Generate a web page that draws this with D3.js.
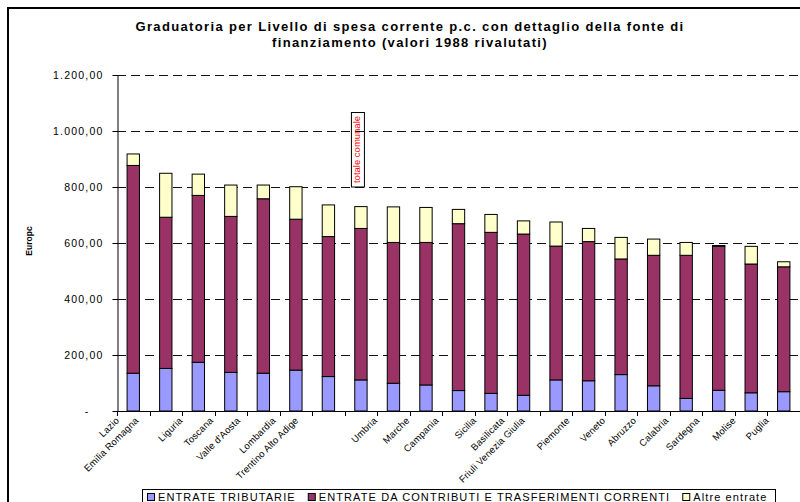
<!DOCTYPE html>
<html>
<head>
<meta charset="utf-8">
<script src="https://cdn.jsdelivr.net/npm/d3@7"></script>
<style>
  body { margin: 0; background: #fff; }
  svg { display: block; font-family: "Liberation Sans", Arial, sans-serif; }
</style>
</head>
<body>
<svg id="chart" width="800" height="502"></svg>
<script>
// Regions ranked by current spending per inhabitant (the unnamed slot is the national total)
const regions = ["Lazio", "Emilia Romagna", "Liguria", "Toscana", "Valle d'Aosta", "Lombardia",
  "Trentino Alto Adige", "", "Umbria", "Marche", "Campania", "Sicilia", "Basilicata",
  "Friuli Venezia Giulia", "Piemonte", "Veneto", "Abruzzo", "Calabria", "Sardegna", "Molise", "Puglia"];

// Funding sources, euro per inhabitant
const entrateTributarie = [135, 152, 174, 138, 135, 146, 123, 111, 99, 93, 73, 63, 56, 111, 108, 130, 90, 45, 74, 65, 69];
const entrateContributi = [742, 540, 596, 557, 623, 539, 500, 541, 503, 509, 596, 575, 576, 478, 497, 413, 466, 511, 514, 460, 446];
const altreEntrate      = [41, 157, 76, 112, 49, 116, 113, 78, 127, 125, 51, 64, 47, 86, 47, 77, 58, 46, 3, 63, 18];

const seriesNames  = ["ENTRATE TRIBUTARIE", "ENTRATE DA CONTRIBUTI E TRASFERIMENTI CORRENTI", "Altre entrate"];
const seriesColors = ["#9999FF", "#993366", "#FFFFCC"];
const yTicks = [0, 200, 400, 600, 800, 1000, 1200];
const titleLines = ["Graduatoria per Livello di spesa corrente p.c. con dettaglio della fonte di",
                    "finanziamento (valori 1988 rivalutati)"];
const yTitle = "Europc";
const noteText = "totale comunale";
const noteIndex = 7;

// ---- table for the stack layout
const rows = regions.map((name, i) => ({
  i, name, values: [entrateTributarie[i], entrateContributi[i], altreEntrate[i]]
}));
const stacked = d3.stack().keys([0, 1, 2]).value((d, k) => d.values[k])(rows);

const svg = d3.select("#chart");
const plot = { left: 117, right: 800, top: 75, bottom: 411 };

const x = d3.scaleBand().domain(d3.range(regions.length))
  .range([plot.left, plot.right]).paddingInner(0.62).paddingOuter(0.31);
const y = d3.scaleLinear().domain([0, 1200]).range([plot.bottom, plot.top]);

// white page and outer chart frame
svg.append("rect").attr("width", 800).attr("height", 502).attr("fill", "#fff");
svg.append("path").attr("d", "M8,502V8H800").attr("fill", "none")
  .attr("stroke", "#000").attr("stroke-width", 2);

// title
svg.append("g").selectAll("text").data(titleLines).join("text")
  .attr("x", 410).attr("y", (d, i) => 31 + i * 16)
  .attr("text-anchor", "middle").attr("font-weight", "bold")
  .attr("font-size", 13).attr("letter-spacing", 1.35).attr("fill", "#000")
  .text(d => d);

// dashed gridlines
svg.append("g").selectAll("line").data(yTicks.filter(t => t > 0)).join("line")
  .attr("x1", plot.left).attr("x2", plot.right)
  .attr("y1", d => Math.round(y(d)) + 0.5).attr("y2", d => Math.round(y(d)) + 0.5)
  .attr("stroke", "#111").attr("stroke-dasharray", "9,5");

// stacked bars
svg.append("g").selectAll("g").data(stacked).join("g")
  .attr("fill", (s, k) => seriesColors[k])
  .selectAll("rect").data(s => s).join("rect")
  .attr("x", d => x(d.data.i))
  .attr("width", x.bandwidth())
  .attr("y", d => y(d[1]))
  .attr("height", d => y(d[0]) - y(d[1]))
  .attr("stroke", "#000").attr("stroke-width", 1);

// y axis
const itFmt = d3.formatLocale({ decimal: ",", thousands: ".", grouping: [3], currency: ["", "€"] }).format(",.2f");
const yAxis = svg.append("g").attr("transform", `translate(${plot.left + 0.5},0)`)
  .call(d3.axisLeft(y).tickValues(yTicks).tickSize(5).tickSizeOuter(0)
    .tickFormat(d => d === 0 ? "-" : itFmt(d)));
yAxis.select(".domain").attr("stroke", "#000");
yAxis.selectAll(".tick line").attr("stroke", "#000");
yAxis.selectAll(".tick text")
  .attr("font-family", "Liberation Sans, Arial, sans-serif")
  .attr("font-size", 10.5).attr("letter-spacing", 1.2).attr("fill", "#000")
  .attr("x", d => d === 0 ? -28 : -14);

// x axis with ticks between categories
const xAxis = svg.append("g");
xAxis.append("line").attr("x1", plot.left).attr("x2", plot.right)
  .attr("y1", plot.bottom + 0.5).attr("y2", plot.bottom + 0.5).attr("stroke", "#000");
const gap = (x.step() - x.bandwidth()) / 2;
xAxis.selectAll("line.tk").data(d3.range(regions.length + 1)).join("line")
  .attr("class", "tk")
  .attr("x1", i => Math.round(i < regions.length ? x(i) - gap : x(i - 1) + x.bandwidth() + gap) + 0.5)
  .attr("x2", i => Math.round(i < regions.length ? x(i) - gap : x(i - 1) + x.bandwidth() + gap) + 0.5)
  .attr("y1", plot.bottom).attr("y2", plot.bottom + 5).attr("stroke", "#000");

// rotated category labels
const labels = xAxis.selectAll("text").data(rows.filter(r => r.name)).join("text")
  .attr("text-anchor", "end").attr("font-size", 9.5).attr("letter-spacing", 0.2).attr("fill", "#000")
  .text(d => d.name);
labels.attr("transform", function (d) {
  const len = this.getComputedTextLength();
  const cx = x(d.i) + x.bandwidth() / 2;
  return `translate(${cx - 7 - 0.27 * len},421) rotate(-45)`;
});

// y axis title
svg.append("text").attr("transform", "translate(32,241) rotate(-90)")
  .attr("text-anchor", "middle").attr("font-weight", "bold").attr("font-size", 8.5)
  .text(yTitle);

// boxed note over the national total bar
const ncx = x(noteIndex) + x.bandwidth() / 2;
svg.append("rect").attr("x", ncx - 9.5).attr("y", 112.5)
  .attr("width", 13).attr("height", y(800) - 112.5)
  .attr("fill", "none").attr("stroke", "#000").attr("stroke-width", 1);
svg.append("text").attr("transform", `translate(${ncx - 0.5},149.5) rotate(-90)`)
  .attr("text-anchor", "middle").attr("font-size", 9.5).attr("fill", "#FF0000")
  .text(noteText);

// legend
const leg = svg.append("g");
leg.append("rect").attr("x", 142.5).attr("y", 489.5).attr("width", 633).attr("height", 30)
  .attr("fill", "#fff").attr("stroke", "#000");
let cursor = 147;
seriesNames.forEach((name, k) => {
  leg.append("rect").attr("x", cursor + 0.5).attr("y", 493.5).attr("width", 7).attr("height", 7)
    .attr("fill", seriesColors[k]).attr("stroke", "#000");
  const t = leg.append("text").attr("x", cursor + 11).attr("y", 501)
    .attr("font-size", 11).attr("letter-spacing", 1.1).attr("fill", "#000").text(name);
  cursor += 11 + t.node().getComputedTextLength() + 12;
});
</script>
</body>
</html>
